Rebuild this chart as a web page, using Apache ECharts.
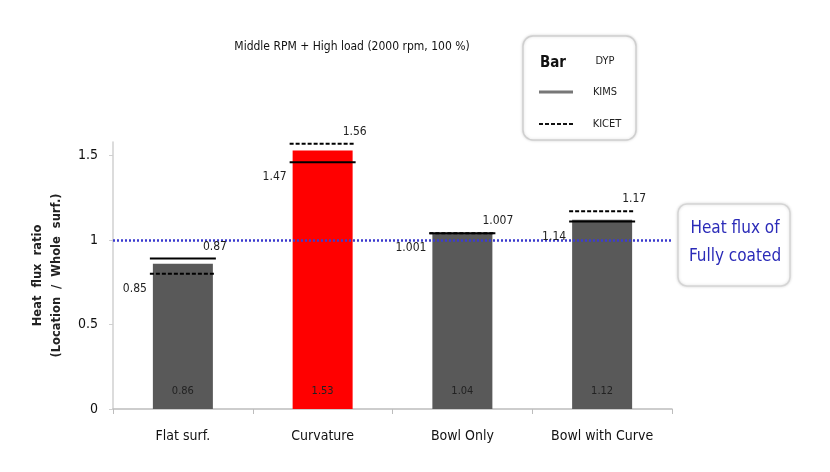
<!DOCTYPE html>
<html>
<head>
<meta charset="utf-8">
<script src="https://cdn.jsdelivr.net/npm/echarts@6/dist/echarts.min.js"></script>
<style>html,body{margin:0;padding:0;background:#fff;}#c{width:830px;height:472px;}</style>
</head>
<body>
<div id="c"></div>
<script>
// ---- data ----
const categories = ['Flat surf.', 'Curvature', 'Bowl Only', 'Bowl with Curve'];
const dypBars = [0.86, 1.53, 1.04, 1.12];
const kimsLines = [0.89, 1.46, 1.04, 1.11];
const kicetLines = [0.80, 1.57, 1.04, 1.17];
const lowerLabels = ['0.85', '1.47', '1.001', '1.14'];
const upperLabels = ['0.87', '1.56', '1.007', '1.17'];
const yTicks = [0, 0.5, 1, 1.5];
const fullyCoated = 1;
const titleText = 'Middle RPM + High load (2000 rpm, 100 %)';

const FONT = "'Liberation Sans Narrow', 'DejaVu Sans Condensed', 'Liberation Sans', sans-serif";
const barColors = ['#595959', '#ff0000', '#595959', '#595959'];

const chart = echarts.init(document.getElementById('c'));
chart.setOption({
  animation: false,
  backgroundColor: '#fff',
  title: {
    text: titleText, left: 347, top: 36, textAlign: 'center',
    textStyle: { fontFamily: FONT, fontSize: 12, fontWeight: 'normal', color: '#111' }
  },
  grid: { left: 113, right: 158, top: 142, bottom: 63 },
  xAxis: {
    type: 'category', data: categories,
    axisLine: { lineStyle: { color: '#bdbdbd', width: 1.5 } },
    axisTick: { show: true, length: 5, lineStyle: { color: '#bdbdbd' } },
    axisLabel: { fontFamily: FONT, fontSize: 14, color: '#111', margin: 20 }
  },
  yAxis: {
    type: 'value', min: 0, max: 1.58, interval: 0.5,
    name: 'Heat  flux  ratio\n(Location  /  Whole  surf.)',
    nameLocation: 'middle', nameRotate: 90, nameGap: 46,
    nameTextStyle: { fontFamily: "'DejaVu Sans', sans-serif", fontSize: 11.5, fontWeight: 'bold', color: '#222', lineHeight: 19 },
    axisLine: { show: true, lineStyle: { color: '#d0d0d0', width: 1.5 } },
    axisTick: { show: true, length: 4, lineStyle: { color: '#d0d0d0' } },
    splitLine: { show: false },
    axisLabel: {
      fontFamily: FONT, fontSize: 14, color: '#111', margin: 15,
      showMaxLabel: false,
      formatter: v => (yTicks.indexOf(v) >= 0 ? String(v) : '')
    }
  },
  series: [
    {
      name: 'DYP', type: 'bar', barWidth: 60,
      data: dypBars.map((v, i) => ({ value: v, itemStyle: { color: barColors[i] } })),
      label: {
        show: true, position: 'insideBottom', distance: 12,
        fontFamily: FONT, fontSize: 11, color: '#222',
        formatter: p => p.value.toFixed(2)
      },
      markLine: {
        silent: true, symbol: 'none',
        label: { show: false },
        lineStyle: { color: '#3b3bd0', type: [2, 2], width: 2.5 },
        data: [{ yAxis: fullyCoated }]
      },
      z: 2
    },
    {
      name: 'Lines', type: 'custom', z: 5,
      data: categories.map((c, i) => [i, kimsLines[i], kicetLines[i]]),
      encode: { x: 0, y: [1, 2] },
      renderItem: function (params, api) {
        const i = api.value(0);
        const pK = api.coord([i, api.value(1)]);
        const pC = api.coord([i, api.value(2)]);
        const half = 33;
        const kimsLow = api.value(1) <= api.value(2);
        const low = kimsLow ? pK : pC;
        const high = kimsLow ? pC : pK;
        const ts = { fontFamily: FONT, fontSize: 12, fill: '#222' };
        return {
          type: 'group',
          children: [
            { type: 'line', shape: { x1: pC[0] - half, y1: pC[1], x2: pC[0] + half, y2: pC[1] },
              style: { stroke: '#000', lineWidth: 2, lineDash: [4, 2] } },
            { type: 'line', shape: { x1: pK[0] - half, y1: pK[1], x2: pK[0] + half, y2: pK[1] },
              style: { stroke: '#000', lineWidth: 2 } },
            { type: 'text', style: Object.assign({ text: lowerLabels[params.dataIndex], x: low[0] - half - 3, y: low[1] + 15, align: 'right', verticalAlign: 'middle' }, ts) },
            { type: 'text', style: Object.assign({ text: upperLabels[params.dataIndex], x: high[0] + half - 13, y: high[1] - 12, align: 'left', verticalAlign: 'middle' }, ts) }
          ]
        };
      }
    }
  ],
  graphic: [
    { type: 'rect', shape: { x: 523, y: 36, width: 113, height: 104, r: 10 },
      style: { fill: '#fff', stroke: '#cfcfcf', lineWidth: 1.5, shadowBlur: 3, shadowColor: 'rgba(0,0,0,0.15)' }, z: 10 },
    { type: 'text', style: { text: 'Bar', x: 553, y: 63, align: 'center', verticalAlign: 'middle', fontFamily: FONT, fontSize: 15, fontWeight: 'bold', fill: '#111' }, z: 11 },
    { type: 'text', style: { text: 'DYP', x: 605, y: 61, align: 'center', verticalAlign: 'middle', fontFamily: FONT, fontSize: 11, fill: '#222' }, z: 11 },
    { type: 'line', shape: { x1: 539, y1: 92, x2: 573, y2: 92 }, style: { stroke: '#777', lineWidth: 3 }, z: 11 },
    { type: 'text', style: { text: 'KIMS', x: 605, y: 92, align: 'center', verticalAlign: 'middle', fontFamily: FONT, fontSize: 11, fill: '#222' }, z: 11 },
    { type: 'line', shape: { x1: 539, y1: 124, x2: 573, y2: 124 }, style: { stroke: '#111', lineWidth: 2, lineDash: [4, 2] }, z: 11 },
    { type: 'text', style: { text: 'KICET', x: 607, y: 124, align: 'center', verticalAlign: 'middle', fontFamily: FONT, fontSize: 11, fill: '#222' }, z: 11 },
    { type: 'rect', shape: { x: 678, y: 204, width: 112, height: 82, r: 9 },
      style: { fill: '#fff', stroke: '#d5d5d5', lineWidth: 1.5, shadowBlur: 3, shadowColor: 'rgba(0,0,0,0.15)' }, z: 10 },
    { type: 'text', style: { text: 'Heat flux of', x: 735, y: 229, align: 'center', verticalAlign: 'middle', fontFamily: FONT, fontSize: 17, fill: '#2b2bb8' }, z: 11 },
    { type: 'text', style: { text: 'Fully coated', x: 735, y: 257, align: 'center', verticalAlign: 'middle', fontFamily: FONT, fontSize: 17, fill: '#2b2bb8' }, z: 11 }
  ]
});
</script>
</body>
</html>
